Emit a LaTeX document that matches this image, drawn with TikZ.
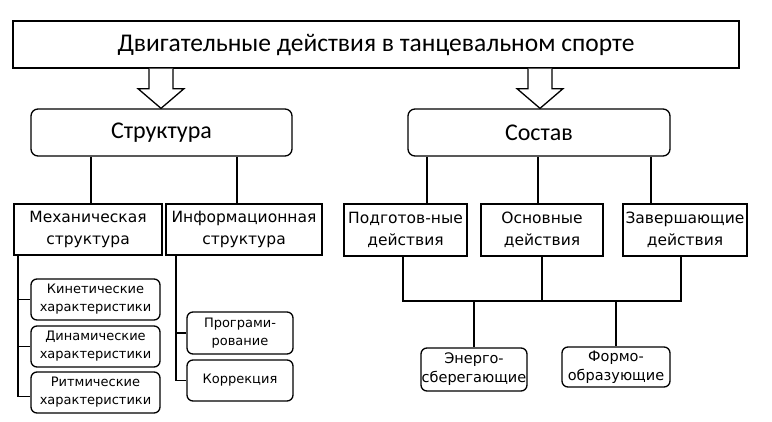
\documentclass[tikz,border=0pt]{standalone}
\usepackage{fontspec}
\setmainfont{Carlito}
\newfontfamily\dv{DejaVu Sans}
\usetikzlibrary{calc}
\begin{document}
\begin{tikzpicture}[x=1pt,y=-1pt,
  box/.style={draw,line width=1.3pt,inner sep=0pt,align=center},
  bigbox/.style={box,font=\fontsize{24}{28}\selectfont},
  midbox/.style={box,font=\dv\fontsize{15.5}{22}\selectfont},
  smallbox/.style={box,rounded corners=6pt,font=\dv\fontsize{13}{18}\selectfont},
  lowbox/.style={box,rounded corners=6pt,font=\dv\fontsize{14.5}{19}\selectfont},
  link/.style={line width=1.3pt},
  hollow/.style={line width=1.3pt,fill=white,line join=miter}]
\useasboundingbox (0,0) rectangle (772,421);
\fill[white] (0,0) rectangle (772,421);
% main nodes
\node[bigbox,font=\fontsize{25.5}{28}\selectfont,minimum width=726pt,minimum height=47pt] (top) at (376,44.5) {Двигательные действия в танцевальном спорте};
\node[bigbox,rounded corners=7pt,minimum width=261pt,minimum height=47pt] (struct) at (161.5,132.5) {Структура};
\node[bigbox,rounded corners=7pt,minimum width=262pt,minimum height=47pt] (sostav) at (539,132.5) {Состав};
% second level
\node[midbox,minimum width=148pt,minimum height=51pt] (mech) at (88,229.5) {Механическая\\структура};
\node[midbox,minimum width=156pt,minimum height=51pt] (info) at (244,229.5) {Информационная\\структура};
\node[midbox,minimum width=123pt,minimum height=52pt] (podg) at (405.5,230) {Подготов-ные\\действия};
\node[midbox,minimum width=122pt,minimum height=52pt] (osn) at (542,230) {Основные\\действия};
\node[midbox,minimum width=124pt,minimum height=52pt] (zav) at (685,230) {Завершающие\\действия};
% third level
\node[smallbox,minimum width=129pt,minimum height=41pt] (kin) at (95.5,299.5) {Кинетические\\характеристики};
\node[smallbox,minimum width=129pt,minimum height=41pt] (din) at (95.5,346.5) {Динамические\\характеристики};
\node[smallbox,minimum width=129pt,minimum height=41pt] (rit) at (95.5,392.5) {Ритмические\\характеристики};
\node[smallbox,minimum width=106pt,minimum height=42pt] (prog) at (240,333) {Програми-\\рование};
\node[smallbox,minimum width=106pt,minimum height=41pt] (korr) at (240,380.5) {Коррекция};
\node[lowbox,minimum width=106pt,minimum height=43pt] (energo) at (474,369.5) {Энерго-\\сберегающие};
\node[lowbox,minimum width=108pt,minimum height=40pt] (formo) at (616,367) {Формо-\\образующие};
% hollow arrows
\coordinate (a1) at (161,0);
\coordinate (a2) at (540,0);
\draw[hollow] ($(top.south -| a1)+(-12,0)$) -- ++(0,20) -- ++(-11,0) -- ($(struct.north -| a1)$) -- ($(top.south -| a1)+(23,20)$) -- ++(-11,0) -- ++(0,-20);
\draw[hollow] ($(top.south -| a2)+(-12,0)$) -- ++(0,20) -- ++(-11,0) -- ($(sostav.north -| a2)$) -- ($(top.south -| a2)+(23,20)$) -- ++(-11,0) -- ++(0,-20);
% structure links
\coordinate (s1) at (91,0);
\coordinate (s2) at (237,0);
\draw[link] (struct.south -| s1) -- (mech.north -| s1);
\draw[link] (struct.south -| s2) -- (info.north -| s2);
% sostav links
\coordinate (c1) at (427,0);
\coordinate (c2) at (538,0);
\coordinate (c3) at (651,0);
\draw[link] (sostav.south -| c1) -- (podg.north -| c1);
\draw[link] (sostav.south -| c2) -- (osn.north -| c2);
\draw[link] (sostav.south -| c3) -- (zav.north -| c3);
% brackets
\coordinate (b1) at (18,0);
\draw[link] (mech.south -| b1) |- (kin.west);
\draw[link] (mech.south -| b1) |- (din.west);
\draw[link] (mech.south -| b1) |- ($(rit.west)+(0,4)$);
\coordinate (b2) at (176,0);
\draw[link] (info.south -| b2) |- (prog.west);
\draw[link] (info.south -| b2) |- (korr.west);
% bus
\coordinate (busL) at (403,301);
\coordinate (busR) at (681,301);
\draw[link] (podg.south -| busL) -- (busL) -- (busR) -- (zav.south -| busR);
\draw[link] (osn.south) -- (osn.south |- busL);
\draw[link] (energo.north |- busL) -- (energo.north);
\draw[link] (formo.north |- busL) -- (formo.north);
\end{tikzpicture}
\end{document}
